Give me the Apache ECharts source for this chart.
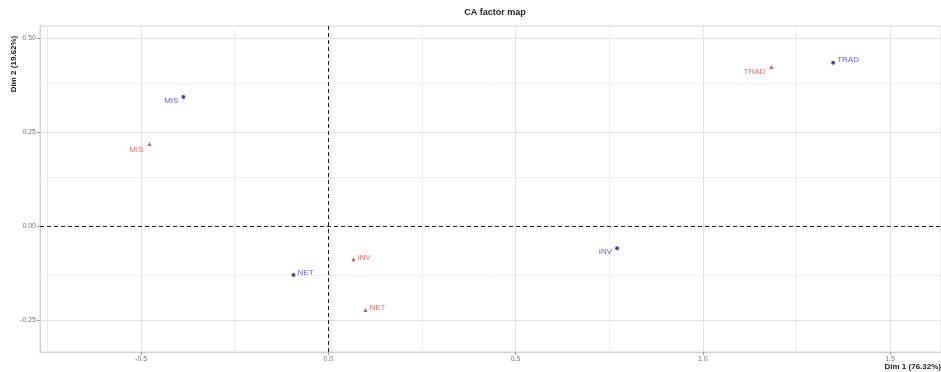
<!DOCTYPE html>
<html>
<head>
<meta charset="utf-8">
<script src="https://cdn.jsdelivr.net/npm/echarts@6/dist/echarts.min.js"></script>
<style>
html,body{margin:0;padding:0;background:#fff;}
#chart{width:941px;height:372px;}
</style>
</head>
<body>
<div id="chart"></div>
<script>
// Row points (blue circles)
const rowNames = ['MIS', 'TRAD', 'INV', 'NET'];
const rowDim1 = [-0.387, 1.348, 0.771, -0.093];
const rowDim2 = [0.343, 0.434, -0.059, -0.130];
// Column points (red triangles)
const colNames = ['MIS', 'TRAD', 'INV', 'NET'];
const colDim1 = [-0.478, 1.183, 0.067, 0.099];
const colDim2 = [0.218, 0.423, -0.088, -0.223];
// Tick labels
const xTicks = [-0.5, 0, 0.5, 1.0, 1.5];
const yTicks = [-0.25, 0, 0.25, 0.5];
const xMinor = [-0.75, -0.25, 0.25, 0.75, 1.25];
const yMinor = [-0.125, 0.125, 0.375];

// label placement (style only)
const rowLabelPlace = [['left', [-1, 4]], ['right', [0, -3]], ['left', [-1, 4]], ['right', [0, -2]]];
const colLabelPlace = [['left', [-2, 6]], ['left', [-2, 5]], ['right', [0, -1]], ['right', [0, -2]]];

const blueText = '#3a3ab8';
const bluePt = '#1c1c80';
const redText = '#d84a45';
const redPt = '#b83232';

function mkData(names, d1, d2, places, color) {
  return names.map((n, i) => ({
    value: [d1[i], d2[i]],
    name: n,
    label: { position: places[i][0], offset: places[i][1], color: color }
  }));
}

const majorColor = '#e2e2e2';
const minorColor = '#ececec';
const gridLines = [];
xMinor.forEach(v => gridLines.push({ xAxis: v, lineStyle: { color: minorColor, width: 1, type: 'solid' } }));
yMinor.forEach(v => gridLines.push({ yAxis: v, lineStyle: { color: minorColor, width: 1, type: 'solid' } }));
xTicks.forEach(v => { if (v !== 0) gridLines.push({ xAxis: v, lineStyle: { color: majorColor, width: 1, type: 'solid' } }); });
yTicks.forEach(v => { if (v !== 0) gridLines.push({ yAxis: v, lineStyle: { color: majorColor, width: 1, type: 'solid' } }); });
gridLines.push({ xAxis: 0, lineStyle: { color: '#222', width: 1, type: [4, 3] } });
gridLines.push({ yAxis: 0, lineStyle: { color: '#222', width: 1, type: [4, 3] } });

const chart = echarts.init(document.getElementById('chart'), null, { renderer: 'canvas' });
chart.setOption({
  animation: false,
  backgroundColor: '#fff',
  textStyle: { fontFamily: 'Liberation Sans, Arial, sans-serif' },
  title: {
    text: 'CA factor map',
    left: 490,
    textAlign: 'center',
    top: 3,
    textStyle: { fontSize: 9, fontWeight: 'bold', color: '#222', fontFamily: 'Liberation Sans, Arial, sans-serif' }
  },
  graphic: [
    {
      type: 'text', x: 14, y: 64, rotation: Math.PI / 2,
      style: { text: 'Dim 2 (19.62%)', fontSize: 8, fontWeight: 'bold', fill: '#222', textAlign: 'center', textVerticalAlign: 'middle', fontFamily: 'Liberation Sans, Arial, sans-serif' }
    },
    {
      type: 'text', x: 941, y: 367,
      style: { text: 'Dim 1 (76.32%)', fontSize: 8, fontWeight: 'bold', fill: '#222', textAlign: 'right', textVerticalAlign: 'middle', fontFamily: 'Liberation Sans, Arial, sans-serif' }
    }
  ],
  grid: { left: 40, right: 0, top: 26, bottom: 20, show: true, borderColor: '#d6d6d6', borderWidth: 1, backgroundColor: '#fff' },
  xAxis: {
    type: 'value', min: -0.77, max: 1.636,
    axisLine: { show: true, onZero: false, lineStyle: { color: '#cfcfcf' } },
    axisTick: { show: true, customValues: xTicks, length: 3, lineStyle: { color: '#999' } },
    axisLabel: { customValues: xTicks, fontSize: 7, color: '#777', margin: 4, formatter: v => v.toFixed(1) },
    splitLine: { show: false }
  },
  yAxis: {
    type: 'value', min: -0.335, max: 0.532,
    axisLine: { show: true, onZero: false, lineStyle: { color: '#cfcfcf' } },
    axisTick: { show: true, customValues: yTicks, length: 3, lineStyle: { color: '#999' } },
    axisLabel: { customValues: yTicks, fontSize: 7, color: '#777', margin: 4, formatter: v => v.toFixed(2) },
    splitLine: { show: false }
  },
  series: [
    {
      type: 'scatter', name: 'grid', data: [], silent: true, z: 1,
      markLine: { silent: true, symbol: 'none', label: { show: false }, animation: false, data: gridLines }
    },
    {
      type: 'scatter', name: 'rows', symbol: 'circle', symbolSize: 4, z: 5,
      itemStyle: { color: bluePt },
      label: { show: true, formatter: p => p.name, fontSize: 8, distance: 2 },
      data: mkData(rowNames, rowDim1, rowDim2, rowLabelPlace, blueText)
    },
    {
      type: 'scatter', name: 'cols', symbol: 'triangle', symbolSize: 4, z: 5,
      itemStyle: { color: redPt },
      label: { show: true, formatter: p => p.name, fontSize: 8, distance: 2 },
      data: mkData(colNames, colDim1, colDim2, colLabelPlace, redText)
    }
  ]
});
</script>
</body>
</html>
